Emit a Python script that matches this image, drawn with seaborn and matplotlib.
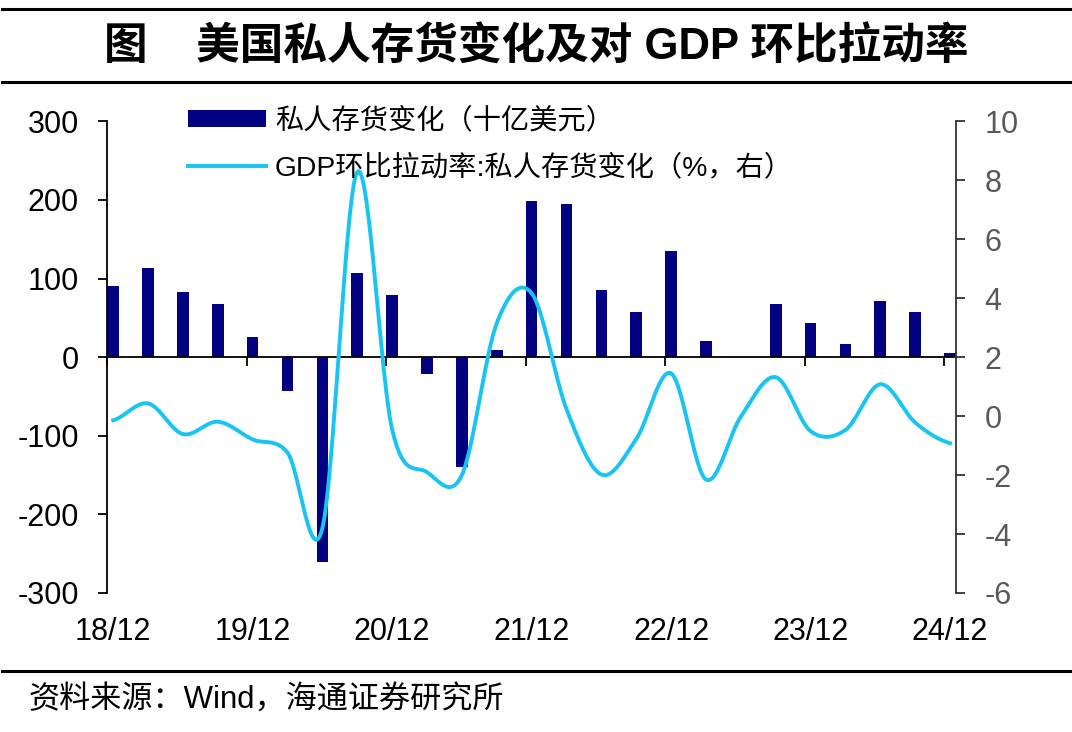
"""US private inventory change and its contribution to GDP q/q growth."""

import matplotlib

matplotlib.use("Agg")
import matplotlib.pyplot as plt
import numpy as np
import seaborn as sns
from matplotlib.lines import Line2D
from matplotlib.patches import Patch

# ---- data ----
quarters = [
    "18/12", "19/03", "19/06", "19/09", "19/12", "20/03", "20/06", "20/09",
    "20/12", "21/03", "21/06", "21/09", "21/12", "22/03", "22/06", "22/09",
    "22/12", "23/03", "23/06", "23/09", "23/12", "24/03", "24/06", "24/09",
    "24/12",
]
# private inventory change, billion USD (left axis)
inventory_change = [
    90, 114, 83, 67, 25, -43, -261, 107,
    79, -22, -140, 9, 199, 195, 86, 58,
    135, 20, 0, 67, 44, 17, 71, 57,
    5,
]
# contribution to GDP q/q growth, % (right axis)
gdp_contribution = [
    -0.14, 0.43, -0.61, -0.19, -0.79, -1.24, -3.8, 8.28,
    -0.45, -1.9, -2.0, 3.15, 4.17, 0.24, -1.98, -0.78,
    1.45, -2.15, -0.02, 1.32, -0.51, -0.47, 1.08, -0.22,
    -0.92,
]
year_labels = ["18/12", "19/12", "20/12", "21/12", "22/12", "23/12", "24/12"]

BAR_COLOR = "#000080"
LINE_COLOR = "#18C4F2"
BAR_W = 0.335


def catmull_rom(x, y, steps=30):
    """Smooth line through the points (like a spreadsheet 'smoothed line')."""
    x = np.asarray(x, float)
    y = np.asarray(y, float)
    px = np.concatenate([[2 * x[0] - x[1]], x, [2 * x[-1] - x[-2]]])
    py = np.concatenate([[y[0]], y, [y[-1]]])
    t = np.linspace(0, 1, steps, endpoint=False)
    xs, ys = [], []
    for i in range(len(x) - 1):
        for arr, out in ((px, xs), (py, ys)):
            p0, p1, p2, p3 = arr[i : i + 4]
            out.append(
                0.5
                * (
                    2 * p1
                    + (p2 - p0) * t
                    + (2 * p0 - 5 * p1 + 4 * p2 - p3) * t**2
                    + (3 * p1 - p0 - 3 * p2 + p3) * t**3
                )
            )
    xs.append([x[-1]])
    ys.append([y[-1]])
    return np.concatenate(xs), np.concatenate(ys)


plt.rcParams["font.family"] = ["Liberation Sans", "Noto Sans CJK SC"]
plt.rcParams["axes.unicode_minus"] = False

fig = plt.figure(figsize=(10.72, 7.32), dpi=100)
ax = fig.add_axes([0.1001, 0.1899, 0.7916, 0.6444])

idx = np.arange(len(quarters))
centers = idx + BAR_W / 2

sns.barplot(
    x=centers,
    y=inventory_change,
    native_scale=True,
    width=BAR_W,
    color=BAR_COLOR,
    saturation=1,
    errorbar=None,
    linewidth=0,
    ax=ax,
)

ax.set_xlim(0, len(quarters) - 1 + BAR_W)
ax.set_ylim(-300, 300)
ax.set_yticks(np.arange(-300, 301, 100))
ax.set_xlabel("")
ax.set_ylabel("")

# x axis line sits on zero, year ticks hang from it
for side in ("top", "right"):
    ax.spines[side].set_visible(False)
ax.spines["bottom"].set_position(("data", 0))
for side in ("left", "bottom"):
    ax.spines[side].set_linewidth(1.3)
    ax.spines[side].set_color("black")
year_idx = [quarters.index(q) for q in year_labels]
ax.set_xticks(year_idx)
ax.tick_params(axis="x", direction="out", length=6.5, width=1.3, labelbottom=False)
ax.tick_params(axis="y", direction="out", length=6.5, width=1.3, labelsize=22, pad=14)

# year labels under the plot, centred on the bars
sec = ax.secondary_xaxis(0.0)
sec.set_xticks(centers[year_idx], year_labels)
sec.tick_params(length=0, labelsize=22, pad=17)
sec.spines["bottom"].set_visible(False)

# right axis: smoothed contribution line
ax2 = ax.twinx()
sx, sy = catmull_rom(centers, gdp_contribution)
sns.lineplot(x=sx, y=sy, sort=False, estimator=None, color=LINE_COLOR,
             linewidth=2.8, ax=ax2)
ax2.set_ylim(-6, 10)
ax2.set_yticks(np.arange(-6, 11, 2))
ax2.set_ylabel("")
for side in ("top", "left", "bottom"):
    ax2.spines[side].set_visible(False)
ax2.spines["right"].set_linewidth(1.3)
ax2.spines["right"].set_color("#333333")
ax2.tick_params(axis="y", direction="out", length=6.5, width=1.3, labelsize=22,
                pad=14, labelcolor="#595959", color="#333333")

handles = [
    Patch(facecolor=BAR_COLOR, edgecolor="none"),
    Line2D([], [], color=LINE_COLOR, linewidth=2.8),
]
labels = ["私人存货变化（十亿美元）", "GDP环比拉动率:私人存货变化（%，右）"]
fig.legend(handles, labels, loc="upper left", bbox_to_anchor=(0.1754, 0.853),
           frameon=False, fontsize=20.3, borderpad=0, borderaxespad=0,
           handlelength=2.78, handleheight=0.55, handletextpad=0.3,
           labelspacing=0.7)

# header / footer
fig.text(0.5, 0.936, "图    美国私人存货变化及对 GDP 环比拉动率", ha="center",
         va="center", fontsize=31.4, fontweight="bold")
fig.text(0.027, 0.0437, "资料来源：Wind，海通证券研究所", ha="left",
         va="center", fontsize=22.4)
for yy in (0.9877, 0.888, 0.0833):
    fig.add_artist(Line2D([0.002, 0.998], [yy, yy], color="black",
                          linewidth=2.2, transform=fig.transFigure))

fig.savefig("out.png", dpi=100)
